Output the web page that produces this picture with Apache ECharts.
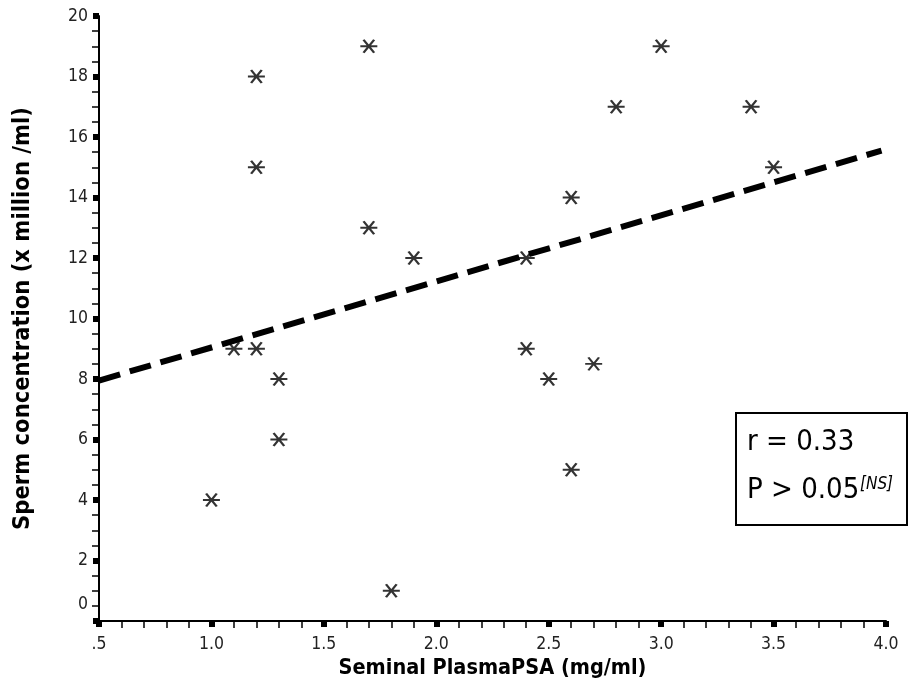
<!DOCTYPE html>
<html>
<head>
<meta charset="utf-8">
<script src="https://cdn.jsdelivr.net/npm/echarts@6/dist/echarts.min.js"></script>
<style>
  html, body { margin: 0; padding: 0; background: #fff; }
  #chart { width: 911px; height: 686px; }
</style>
</head>
<body>
<div id="chart"></div>
<script>
  // seminal plasma PSA (mg/ml) vs sperm concentration (x million/ml)
  const psa = [1.0, 1.1, 1.2, 1.2, 1.2, 1.3, 1.3, 1.7, 1.7, 1.8, 1.9, 2.4, 2.4, 2.5, 2.6, 2.6, 2.7, 2.8, 3.0, 3.4, 3.5]
  const conc = [4, 9, 9, 18, 15, 8, 6, 19, 13, 1, 12, 12, 9, 8, 14, 5, 8.5, 17, 19, 17, 15]
  // regression line end points
  const fitX = [0.5, 3.98]
  const fitY = [7.95, 15.55]
  const statLines = ['r = 0.33', 'P > 0.05', '[NS]']

  const narrow = "'Liberation Sans Narrow', 'DejaVu Sans Condensed', sans-serif"
  const asterisk = 'path://M0,6L16,6M3,0L13,12M13,0L3,12'

  const chart = echarts.init(document.getElementById('chart'))
  const options = {
    animation: false,
    grid: { left: 99, right: 25, top: 16, bottom: 65 },
    xAxis: {
      type: 'value',
      min: 0.5,
      max: 4.0,
      interval: 0.5,
      name: 'Seminal PlasmaPSA (mg/ml)',
      nameLocation: 'middle',
      nameGap: 33,
      nameTextStyle: { fontFamily: narrow, fontWeight: 'bold', fontSize: 21.5, color: '#000' },
      splitLine: { show: false },
      axisLine: { lineStyle: { color: '#000', width: 2 } },
      axisTick: { length: 6, lineStyle: { color: '#000', width: 6 } },
      minorTick: { show: true, splitNumber: 5, length: 7, lineStyle: { color: '#000', width: 1.5 } },
      axisLabel: {
        color: '#222',
        fontFamily: narrow,
        fontSize: 17.5,
        margin: 14,
        formatter: function (v) {
          return v === 0.5 ? '.5' : v.toFixed(1)
        }
      }
    },
    yAxis: {
      type: 'value',
      min: 0,
      max: 20,
      interval: 2,
      name: 'Sperm concentration (x million /ml)',
      nameLocation: 'middle',
      nameGap: 64,
      nameTextStyle: { fontFamily: narrow, fontWeight: 'bold', fontSize: 23.5, color: '#000' },
      splitLine: { show: false },
      axisLine: { lineStyle: { color: '#000', width: 2 } },
      axisTick: { length: 6, lineStyle: { color: '#000', width: 6 } },
      minorTick: { show: true, splitNumber: 4, length: 7, lineStyle: { color: '#000', width: 1.5 } },
      axisLabel: {
        color: '#222',
        fontFamily: narrow,
        fontSize: 17.5,
        margin: 11,
        formatter: function (v) {
          return v === 0 ? '{z|0}' : String(v)
        },
        rich: {
          z: { fontFamily: narrow, fontSize: 17.5, color: '#222', padding: [0, 0, 34, 0] }
        }
      }
    },
    series: [
      {
        type: 'scatter',
        data: psa.map((x, i) => [x, conc[i]]),
        symbol: asterisk,
        symbolSize: [17, 13],
        itemStyle: { color: 'rgba(0,0,0,0)', borderColor: '#000', borderWidth: 2.1 },
        z: 3
      },
      {
        type: 'line',
        data: fitX.map((x, i) => [x, fitY[i]]),
        symbol: 'none',
        lineStyle: { color: '#000', width: 6, type: [22, 10] },
        z: 2
      }
    ],
    graphic: [
      {
        type: 'rect',
        left: 735,
        top: 412,
        shape: { width: 171, height: 112 },
        style: { fill: '#fff', stroke: '#000', lineWidth: 2 },
        z: 10
      },
      {
        type: 'text',
        left: 747,
        top: 418,
        style: {
          text: statLines[0] + '\n' + statLines[1],
          fontFamily: narrow,
          fontSize: 29,
          lineHeight: 48,
          fill: '#000'
        },
        z: 11
      },
      {
        type: 'text',
        left: 860,
        top: 476,
        style: {
          text: statLines[2],
          fontFamily: narrow,
          fontSize: 17,
          fontStyle: 'italic',
          fill: '#000'
        },
        z: 11
      }
    ]
  }
  chart.setOption(options)
</script>
</body>
</html>
